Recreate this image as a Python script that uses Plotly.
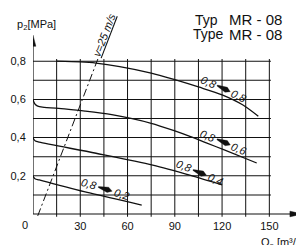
import math
import plotly.graph_objects as go

# ---------------- data ----------------
# pump curves: Q0 [m3/h] vs p2 [MPa]
q_08_08 = [15, 30, 40, 55, 75, 90, 105, 120, 133, 143]
p_08_08 = [0.800, 0.796, 0.790, 0.772, 0.738, 0.703, 0.665, 0.624, 0.572, 0.512]

q_08_06 = [0, 0.6, 1.5, 3, 6, 20, 33, 50, 75, 90, 100, 110, 121, 142]
p_08_06 = [0.600, 0.585, 0.573, 0.565, 0.560, 0.550, 0.539, 0.520, 0.475, 0.435, 0.405, 0.372, 0.337, 0.267]

q_08_04 = [0, 0.6, 1.5, 4, 40, 76, 100, 120]
p_08_04 = [0.400, 0.390, 0.382, 0.376, 0.318, 0.256, 0.202, 0.152]

q_08_02 = [0, 0.6, 1.5, 4, 36, 69]
p_08_02 = [0.200, 0.190, 0.183, 0.178, 0.110, 0.047]

curves = [(q_08_08, p_08_08), (q_08_06, p_08_06), (q_08_04, p_08_04), (q_08_02, p_08_02)]

label_from = "0,8"
label_to = ["0,8", "0,6", "0,4", "0,2"]
label_q = [120.9, 120.9, 105.7, 45.7]
label_p = [0.657, 0.377, 0.217, 0.131]
label_angle = [25, 23, 22, 17]

# velocity line v = 25 m/s
v25_q = [3.0, 41.8]
v25_p = [-0.01, 0.825]
v25_text = "v=25 m/s"

# axes / grid
x_grid = [15, 30, 45, 60, 75, 90, 105, 120, 135, 150]
y_grid = [0.1, 0.2, 0.3, 0.4, 0.5, 0.6, 0.7, 0.8]
x_tickvals = [30, 60, 90, 120, 150]
x_ticktext = ["30", "60", "90", "120", "150"]
y_tickvals = [0.2, 0.4, 0.6, 0.8]
y_ticktext = ["0,2", "0,4", "0,6", "0,8"]

X_MAX = 172
Y_MIN, Y_MAX = -0.021, 1.0
X_ARROW_TIP = 170.7
Y_ARROW_TIP = 0.936

W, H = 296, 237
ML, MR, MT, MB = 25, 0, 15, 27
SX = (W - ML - MR) / X_MAX              # px per x unit
SY = (H - MT - MB) / (Y_MAX - Y_MIN)    # px per y unit

FONT = "Liberation Sans, Arial, sans-serif"
BLACK = "#111111"

fig = go.Figure()


def vbar(x, y0, y1, w=1.0):
    fig.add_shape(type="rect", xref="x", yref="y",
                  x0=x - w / 2 / SX, x1=x + w / 2 / SX, y0=y0, y1=y1,
                  fillcolor=BLACK, line=dict(width=0))


def hbar(y, x0, x1, w=1.0):
    fig.add_shape(type="rect", xref="x", yref="y",
                  x0=x0, x1=x1, y0=y - w / 2 / SY, y1=y + w / 2 / SY,
                  fillcolor=BLACK, line=dict(width=0))


# grid lines
for x in x_grid:
    vbar(x, -0.014, 0.812)
for y in y_grid:
    hbar(y, 0, 151)

# axis lines
vbar(0, 0, Y_ARROW_TIP - 6 / SY, w=1.2)
hbar(0, 0, X_ARROW_TIP - 6 / SX, w=1.2)

# velocity line
fig.add_trace(go.Scatter(x=v25_q, y=v25_p, mode="lines",
                         line=dict(color=BLACK, width=1, dash="8px,3px,2px,3px"),
                         hoverinfo="skip", showlegend=False))

# curves
for q, p in curves:
    fig.add_trace(go.Scatter(x=q, y=p, mode="lines",
                             line=dict(color=BLACK, width=1.3, shape="spline", smoothing=0.8),
                             hoverinfo="skip", showlegend=False))

# arrow heads (axis decoration)
hx = 12.0 / SX
hy = 2.8 / SY
fig.add_shape(type="path", xref="x", yref="y",
              path=f"M {X_ARROW_TIP},0 L {X_ARROW_TIP - hx},{hy} L {X_ARROW_TIP - hx},{-hy} Z",
              fillcolor=BLACK, line=dict(color=BLACK, width=0.5))
vx = 2.8 / SX
vy = 11.0 / SY
fig.add_shape(type="path", xref="x", yref="y",
              path=f"M 0,{Y_ARROW_TIP} L {vx},{Y_ARROW_TIP - vy} L {-vx},{Y_ARROW_TIP - vy} Z",
              fillcolor=BLACK, line=dict(color=BLACK, width=0.5))


def offset(q, p, ang, s, t):
    """point at s px along the label direction, t px normal to it (screen y down)"""
    a = math.radians(ang)
    ox = s * math.cos(a) - t * math.sin(a)
    oy = s * math.sin(a) + t * math.cos(a)
    return q + ox / SX, p - oy / SY


# curve labels: "0,8" -> wedge -> "0,x"
for lq, lp, ang, to in zip(label_q, label_p, label_angle, label_to):
    for txt, s in [(label_from, -16.5), (to, 17.0)]:
        xq, yp = offset(lq, lp, ang, s, 0)
        fig.add_annotation(x=xq, y=yp, xref="x", yref="y", text=f"<i>{txt}</i>",
                           textangle=ang, showarrow=False, xanchor="center", yanchor="middle",
                           font=dict(family=FONT, size=11, color=BLACK))
    pts = [offset(lq, lp, ang, s, t) for s, t in
           [(-7, -0.5), (3, -2.8), (7.5, 0), (3, 2.8), (-7, 0.5)]]
    path = "M " + " L ".join(f"{a},{b}" for a, b in pts) + " Z"
    fig.add_shape(type="path", xref="x", yref="y", path=path,
                  fillcolor=BLACK, line=dict(color=BLACK, width=0.3))

# v=25 label
fig.add_annotation(x=45.3, y=0.935, xref="x", yref="y", text=f"<i><u>{v25_text}</u></i>",
                   textangle=-69, showarrow=False, xanchor="center", yanchor="middle",
                   font=dict(family=FONT, size=11, color=BLACK))

# page-pixel helpers for paper-positioned texts (page = figure + 8px body margin)
PLOT_BOTTOM_PAGE = 8 + H - MB
PLOT_LEFT_PAGE = 8 + ML
PLOT_W = W - ML - MR
PLOT_H = H - MT - MB


def px(x):
    return (x - PLOT_LEFT_PAGE) / PLOT_W


def py(y):
    return (PLOT_BOTTOM_PAGE - y) / PLOT_H


# axis titles
fig.add_annotation(x=px(36), y=py(25), xref="paper", yref="paper", text="p<sub>2</sub>[MPa]",
                   showarrow=False, xanchor="center", yanchor="middle",
                   font=dict(family=FONT, size=11, color=BLACK))
fig.add_annotation(x=px(283), y=py(243), xref="paper", yref="paper", text="Q<sub>o</sub> [m³/h]",
                   showarrow=False, xanchor="center", yanchor="middle",
                   font=dict(family=FONT, size=11, color=BLACK))
# zero label
fig.add_annotation(x=px(25), y=py(225), xref="paper", yref="paper", text="0",
                   showarrow=False, xanchor="center", yanchor="middle",
                   font=dict(family=FONT, size=11, color=BLACK))

# title
for txt, tx, ty, fs, anchor in [("Typ", 194, 19.5, 14, "left"), ("MR - 08", 228, 19.5, 15, "left"),
                                ("Type", 225, 34, 14, "right"), ("MR - 08", 228, 34, 15, "left")]:
    fig.add_annotation(x=px(tx), y=py(ty), xref="paper", yref="paper", text=txt,
                       showarrow=False, xanchor=anchor, yanchor="middle", borderpad=0,
                       font=dict(family=FONT, size=fs, color=BLACK))

fig.update_xaxes(range=[0, X_MAX], showgrid=False, zeroline=False, showline=False,
                 tickvals=x_tickvals, ticktext=x_ticktext, ticks="",
                 tickfont=dict(family=FONT, size=11, color=BLACK))
fig.update_yaxes(range=[Y_MIN, Y_MAX], showgrid=False, zeroline=False, showline=False,
                 tickvals=y_tickvals, ticktext=y_ticktext, ticks="outside", ticklen=4,
                 tickcolor="rgba(0,0,0,0)", tickfont=dict(family=FONT, size=11, color=BLACK))

fig.update_layout(width=W, height=H, margin=dict(l=ML, r=MR, t=MT, b=MB),
                  paper_bgcolor="white", plot_bgcolor="white", showlegend=False)

fig.write_html("out.html")
